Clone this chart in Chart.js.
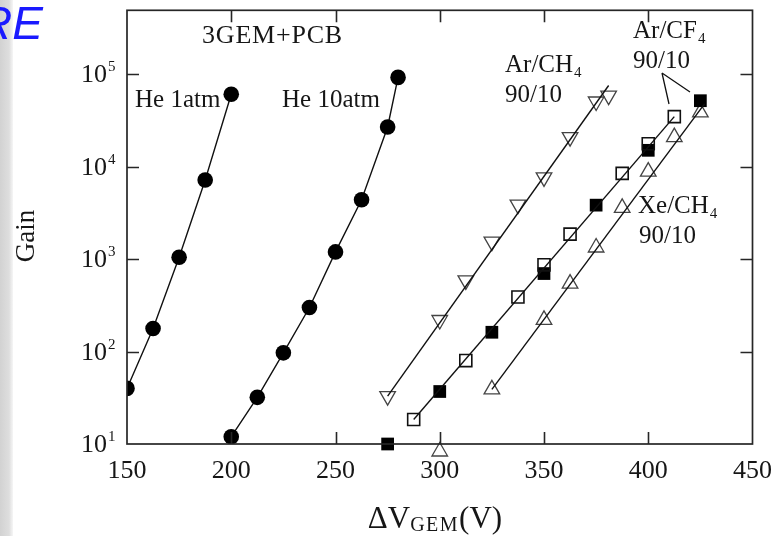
<!DOCTYPE html>
<html>
<head>
<meta charset="utf-8">
<script src="https://cdn.jsdelivr.net/npm/chart.js@4.4.1/dist/chart.umd.min.js"></script>
<style>
  html, body { margin: 0; padding: 0; background: #fff; }
  #wrap { width: 784px; height: 536px; position: relative; }
</style>
</head>
<body>
<div id="wrap"><canvas id="gainChart" width="784" height="536"></canvas></div>
<script>
// Axis ticks
const xTicks = [150, 200, 250, 300, 350, 400, 450];
const yTicks = [10, 100, 1000, 10000, 100000];

// He, 1 atm (filled circles)
const he1V = [150, 162.5, 175, 187.5, 200];
const he1Gain = [40, 178, 1050, 7200, 61000];

// He, 10 atm (filled circles)
const he10V = [200, 212.5, 225, 237.5, 250, 262.5, 275, 280];
const he10Gain = [12, 32, 97, 300, 1200, 4400, 27000, 93000];

// Ar/CH4 90/10 (open down-triangles) and its fit line
const arCh4V = [275, 300, 312.5, 325, 337.5, 350, 362.5, 375, 381];
const arCh4Gain = [33, 220, 590, 1550, 3900, 7700, 21000, 51000, 59000];
const arCh4FitV = [275, 381];
const arCh4FitGain = [33, 76000];

// Ar/CF4 90/10 (open and filled squares) and the fit line
const arCf4OpenV = [287.5, 312.5, 337.5, 350, 362.5, 387.5, 400, 412.5];
const arCf4OpenGain = [18.4, 80, 390, 870, 1870, 8500, 17800, 35000];
const arCf4FilledV = [275, 300, 325, 350, 375, 400, 425];
const arCf4FilledGain = [10, 37, 162, 700, 3850, 15100, 52000];
const arCf4FitV = [287.5, 412.5];
const arCf4FitGain = [18.4, 35000];

// Xe/CH4 90/10 (open up-triangles) and its fit line
const xeCh4V = [300, 325, 350, 362.5, 375, 387.5, 400, 412.5, 425];
const xeCh4Gain = [8.3, 39, 221, 545, 1340, 3600, 8870, 21000, 38900];
const xeCh4FitV = [325, 427];
const xeCh4FitGain = [39, 48000];

const pts = (xs, ys) => xs.map((x, i) => ({ x: x, y: ys[i] }));

const SERIF = "'Liberation Serif', 'Times New Roman', serif";
const INK = '#161616';

// Text placed on the plot: left edge, baseline, optional subscript
const notes = [
  { text: '3GEM+PCB', x: 202, y: 43, size: 26, spacing: 0.8 },
  { text: 'He 1atm', x: 135, y: 107 },
  { text: 'He 10atm', x: 282, y: 107 },
  { text: 'Ar/CH', sub: '4', x: 505, y: 72 },
  { text: '90/10', x: 505, y: 102 },
  { text: 'Ar/CF', sub: '4', x: 633, y: 38 },
  { text: '90/10', x: 633, y: 68 },
  { text: 'Xe/CH', sub: '4', x: 638, y: 213 },
  { text: '90/10', x: 639, y: 243 }
];

// Leader lines from the Ar/CF4 label to its two marker sets
const leaders = [
  [[662, 73], [669, 104]],
  [[662, 73], [690, 92]]
];

const decor = {
  id: 'decor',
  beforeDraw(chart) {
    const ctx = chart.ctx;
    ctx.save();
    ctx.fillStyle = '#ffffff';
    ctx.fillRect(0, 0, chart.width, chart.height);
    const g = ctx.createLinearGradient(0, 0, 13, 0);
    g.addColorStop(0, '#d2d2d2');
    g.addColorStop(0.7, '#dedede');
    g.addColorStop(1, '#f6f6f6');
    ctx.fillStyle = g;
    ctx.fillRect(0, 0, 13, chart.height);
    ctx.restore();
  },
  afterDraw(chart) {
    const ctx = chart.ctx;
    const a = chart.chartArea;
    const xs = chart.scales.x, ys = chart.scales.y;
    ctx.save();

    // frame
    ctx.strokeStyle = '#262626';
    ctx.lineWidth = 1.7;
    ctx.strokeRect(a.left, a.top, a.right - a.left, a.bottom - a.top);

    // inward ticks on all four sides
    const tl = 12;
    ctx.lineWidth = 1.6;
    ctx.beginPath();
    xTicks.forEach(v => {
      const px = Math.round(xs.getPixelForValue(v)) + 0.5;
      if (px <= a.left + 1 || px >= a.right - 1) return;
      ctx.moveTo(px, a.bottom); ctx.lineTo(px, a.bottom - tl);
      ctx.moveTo(px, a.top); ctx.lineTo(px, a.top + tl);
    });
    yTicks.forEach(v => {
      const py = Math.round(ys.getPixelForValue(v)) + 0.5;
      if (py >= a.bottom - 1 || py <= a.top + 1) return;
      ctx.moveTo(a.left, py); ctx.lineTo(a.left + tl, py);
      ctx.moveTo(a.right, py); ctx.lineTo(a.right - tl, py);
    });
    ctx.stroke();

    // y tick labels as powers of ten
    ctx.fillStyle = INK;
    ctx.textBaseline = 'alphabetic';
    yTicks.forEach(v => {
      const py = ys.getPixelForValue(v);
      const exp = Math.round(Math.log10(v));
      ctx.font = '26px ' + SERIF;
      ctx.textAlign = 'right';
      ctx.fillText('10', a.left - 20, py + 8);
      ctx.font = '15px ' + SERIF;
      ctx.textAlign = 'left';
      ctx.fillText(String(exp), a.left - 19, py - 3);
    });

    // annotations
    ctx.textAlign = 'left';
    notes.forEach(n => {
      ctx.font = (n.size || 25) + 'px ' + SERIF;
      ctx.letterSpacing = (n.spacing || 0) + 'px';
      ctx.fillText(n.text, n.x, n.y);
      const w = ctx.measureText(n.text).width;
      ctx.letterSpacing = '0px';
      if (n.sub) {
        ctx.font = '15px ' + SERIF;
        ctx.fillText(n.sub, n.x + w + 1, n.y + 5);
      }
    });

    // leader lines
    ctx.strokeStyle = '#111';
    ctx.lineWidth = 1.3;
    ctx.beginPath();
    leaders.forEach(l => { ctx.moveTo(l[0][0], l[0][1]); ctx.lineTo(l[1][0], l[1][1]); });
    ctx.stroke();

    // axis titles
    ctx.save();
    ctx.translate(34, 236);
    ctx.rotate(-Math.PI / 2);
    ctx.font = '27px ' + SERIF;
    ctx.textAlign = 'center';
    ctx.fillText('Gain', 0, 0);
    ctx.restore();

    const parts = [
      { t: '\u0394V', f: '31px ' + SERIF, dy: 0, sp: 0 },
      { t: 'GEM', f: '20px ' + SERIF, dy: 3, sp: 1.5 },
      { t: '(V)', f: '31px ' + SERIF, dy: 0, sp: 0 }
    ];
    let total = 0;
    parts.forEach(p => { ctx.font = p.f; ctx.letterSpacing = p.sp + 'px'; p.w = ctx.measureText(p.t).width; total += p.w; });
    let cx = 435 - total / 2;
    ctx.textAlign = 'left';
    parts.forEach(p => {
      ctx.font = p.f; ctx.letterSpacing = p.sp + 'px';
      ctx.fillText(p.t, cx, 528 + p.dy);
      cx += p.w;
    });
    ctx.letterSpacing = '0px';

    // slide heading fragment
    ctx.font = 'italic 46px "Liberation Sans", Arial, sans-serif';
    ctx.fillStyle = '#1a1aff';
    ctx.textAlign = 'right';
    ctx.fillText('RE', 43, 39);

    ctx.restore();
  }
};

const lineDs = (xs, ys) => ({
  data: pts(xs, ys), showLine: true, pointRadius: 0,
  borderColor: '#111', borderWidth: 1.4, fill: false
});

new Chart(document.getElementById('gainChart'), {
  type: 'scatter',
  data: {
    datasets: [
      lineDs(arCh4FitV, arCh4FitGain),
      lineDs(arCf4FitV, arCf4FitGain),
      lineDs(xeCh4FitV, xeCh4FitGain),
      {
        data: pts(he1V, he1Gain), showLine: true,
        borderColor: '#111', borderWidth: 1.4,
        pointStyle: 'circle', pointRadius: 7.8,
        pointBackgroundColor: '#000', pointBorderColor: '#000', pointBorderWidth: 0
      },
      {
        data: pts(he10V, he10Gain), showLine: true,
        borderColor: '#111', borderWidth: 1.4,
        pointStyle: 'circle', pointRadius: 7.8,
        pointBackgroundColor: '#000', pointBorderColor: '#000', pointBorderWidth: 0
      },
      {
        data: pts(arCh4V, arCh4Gain), showLine: false,
        pointStyle: 'triangle', pointRotation: 180, pointRadius: 9,
        pointBackgroundColor: 'rgba(255,255,255,0)', pointBorderColor: '#444', pointBorderWidth: 1.3
      },
      {
        data: pts(arCf4OpenV, arCf4OpenGain), showLine: false,
        pointStyle: 'rect', pointRadius: 8.5,
        pointBackgroundColor: 'rgba(255,255,255,0)', pointBorderColor: '#111', pointBorderWidth: 1.6
      },
      {
        data: pts(arCf4FilledV, arCf4FilledGain), showLine: false, clip: false,
        pointStyle: 'rect', pointRadius: 9,
        pointBackgroundColor: '#000', pointBorderColor: '#000', pointBorderWidth: 0
      },
      {
        data: pts(xeCh4V, xeCh4Gain), showLine: false, clip: false,
        pointStyle: 'triangle', pointRadius: 9,
        pointBackgroundColor: 'rgba(255,255,255,0)', pointBorderColor: '#444', pointBorderWidth: 1.3
      }
    ]
  },
  options: {
    responsive: false,
    animation: false,
    devicePixelRatio: 1,
    layout: { padding: { top: 5, right: 30, bottom: 0, left: 0 } },
    plugins: { legend: { display: false }, tooltip: { enabled: false } },
    scales: {
      x: {
        type: 'linear', min: 150, max: 450,
        afterBuildTicks: s => { s.ticks = xTicks.map(v => ({ value: v })); },
        afterFit: s => { s.height = 92; },
        grid: { display: false, drawTicks: false },
        border: { display: false },
        ticks: {
          padding: 12, color: INK, maxRotation: 0, autoSkip: false,
          font: { family: SERIF, size: 26 }
        }
      },
      y: {
        type: 'logarithmic', min: 10, max: 495000,
        afterFit: s => { s.width = 127; },
        grid: { display: false, drawTicks: false },
        border: { display: false },
        ticks: { display: false }
      }
    }
  },
  plugins: [decor]
});
</script>
</body>
</html>
